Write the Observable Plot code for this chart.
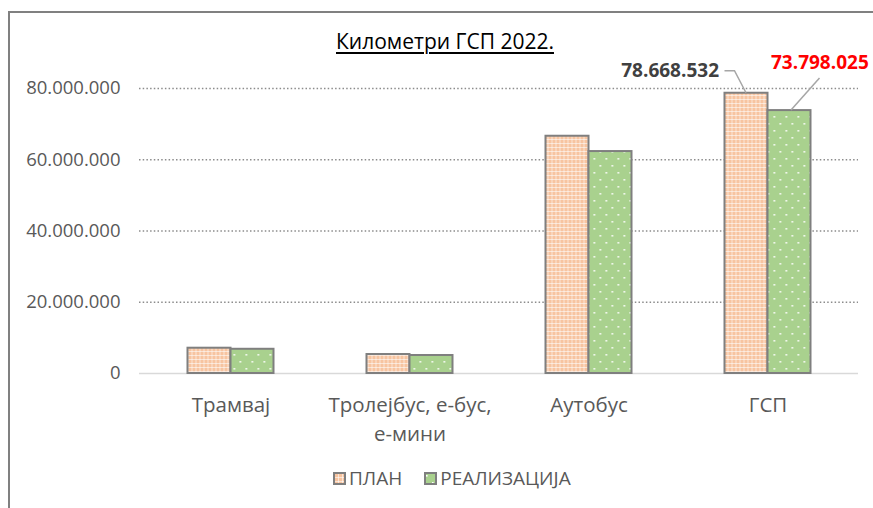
<!DOCTYPE html>
<html>
<head>
<meta charset="utf-8">
<script src="https://cdn.jsdelivr.net/npm/d3@7"></script>
<script src="https://cdn.jsdelivr.net/npm/@observablehq/plot@0.6"></script>
<style>
  html, body { margin: 0; padding: 0; background: #fff; }
  #wrap { position: relative; width: 873px; height: 508px; overflow: hidden; font-family: "Open Sans", sans-serif; }
  #borderTop { position: absolute; left: 8px; top: 11px; width: 870px; height: 2px; background: #808080; }
  #borderLeft { position: absolute; left: 8px; top: 11px; width: 2px; height: 500px; background: #808080; }
  #title { position: absolute; left: 0; width: 890px; top: 27px; text-align: center; font-size: 21px; color: #000; text-decoration: underline; text-underline-offset: 3px; }
  #chart { position: absolute; left: 0; top: 50px; }
  #legend { position: absolute; top: 465px; left: 333px; display: flex; align-items: center; font-size: 19px; color: #595959; }
  #legend .item { display: flex; align-items: center; }
  #legend svg { margin-right: 3px; }
</style>
</head>
<body>
<svg width="0" height="0" style="position:absolute">
  <defs>
    <pattern id="planPat" width="4" height="4" patternUnits="userSpaceOnUse">
      <rect width="4" height="4" fill="#f7c4a0"></rect>
      <rect x="0" y="1" width="4" height="1" fill="#ffffff" fill-opacity="0.55"></rect>
      <rect x="1" y="0" width="1" height="4" fill="#ffffff" fill-opacity="0.55"></rect>
    </pattern>
    <pattern id="realPat" width="12" height="14" patternUnits="userSpaceOnUse">
      <rect width="12" height="14" fill="#a9d18e"></rect>
      <rect x="2" y="3" width="1.6" height="1.6" fill="#ffffff"></rect>
      <rect x="8" y="10" width="1.6" height="1.6" fill="#ffffff"></rect>
    </pattern>
  </defs>
</svg>
<div id="wrap">
  <div id="borderTop"></div>
  <div id="borderLeft"></div>
  <div id="title">Километри ГСП 2022.</div>
  <div id="chart"></div>
  <div id="legend"></div>
</div>
<script>
const categories = ["Трамвај", "Тролејбус, е-бус,\nе-мини", "Аутобус", "ГСП"];
const seriesNames = ["ПЛАН", "РЕАЛИЗАЦИЈА"];
const planValues = [7100000, 5330000, 66600000, 78668532];
const realValues = [6800000, 5050000, 62300000, 73798025];
const yTicks = [0, 20000000, 40000000, 60000000, 80000000];
const labelCategory = "ГСП";

const locale = d3.formatLocale({decimal: ",", thousands: ".", grouping: [3], currency: ["", ""]});
const fmt = locale.format(",d");

const planData = categories.map((c, i) => ({category: c, series: seriesNames[0], value: planValues[i]}));
const realData = categories.map((c, i) => ({category: c, series: seriesNames[1], value: realValues[i]}));
const planLabel = planData.filter(d => d.category === labelCategory);
const realLabel = realData.filter(d => d.category === labelCategory);

const halfBar = 21.5;

function leaderLines(index, scales) {
  const g = d3.create("svg:g");
  const bw = typeof scales.x.bandwidth === "function" ? scales.x.bandwidth() : scales.x.bandwidth;
  const cx = scales.x(labelCategory) + bw / 2;
  const pTop = scales.y(planLabel[0].value);
  const rTop = scales.y(realLabel[0].value);
  const line = d3.line();
  g.append("path")
    .attr("d", line([[cx - halfBar, pTop], [cx - 33, pTop - 22], [cx - 43, pTop - 22]]))
    .attr("fill", "none").attr("stroke", "#a6a6a6").attr("stroke-width", 1.5);
  g.append("path")
    .attr("d", line([[cx + halfBar + 2, rTop], [cx + 52, rTop - 32]]))
    .attr("fill", "none").attr("stroke", "#a6a6a6").attr("stroke-width", 1.5);
  return g.node();
}

const chart = Plot.plot({
  width: 873,
  height: 400,
  marginTop: 38,
  marginBottom: 77,
  marginLeft: 139,
  marginRight: 15,
  style: {fontFamily: "Open Sans, sans-serif", color: "#595959", background: "transparent", overflow: "visible"},
  x: {domain: categories, paddingInner: 0.761, paddingOuter: 0.38, label: null, axis: null},
  y: {domain: [0, 80000000], label: null, axis: null},
  marks: [
    Plot.ruleY(yTicks.filter(t => t > 0), {stroke: "#8c8c8c", strokeWidth: 1.5, strokeDasharray: "1.5,2.2"}),
    Plot.ruleY([0], {stroke: "#d9d9d9", strokeWidth: 1.5}),
    Plot.barY(planData, {x: "category", y: "value", dx: -halfBar, fill: "url(#planPat)", stroke: "#7f7f7f", strokeWidth: 2}),
    Plot.barY(realData, {x: "category", y: "value", dx: halfBar, fill: "url(#realPat)", stroke: "#7f7f7f", strokeWidth: 2}),
    Plot.axisY({ticks: yTicks, tickFormat: fmt, tickSize: 0, tickPadding: 19, fontSize: 18.5, fill: "#595959"}),
    Plot.axisX({tickSize: 0, tickPadding: 19, fontSize: 20.5, lineHeight: 1.37, fill: "#595959"}),
    leaderLines,
    Plot.text(planLabel, {x: "category", y: "value", text: d => fmt(d.value), dx: -49, dy: -22.7, textAnchor: "end", fontSize: 19, fontWeight: "bold", fill: "#404040"}),
    Plot.text(realLabel, {x: "category", y: "value", text: d => fmt(d.value), dx: 3, dy: -48, textAnchor: "start", fontSize: 19, fontWeight: "bold", fill: "#ff0000"})
  ]
});
document.getElementById("chart").appendChild(chart);

const legend = document.getElementById("legend");
const swatchPats = ["planPat", "realPat"];
seriesNames.forEach((name, i) => {
  const item = document.createElement("div");
  item.className = "item";
  if (i > 0) item.style.marginLeft = "22px";
  item.innerHTML = `<svg width="13" height="13"><rect x="1" y="1" width="11" height="11" fill="url(#${swatchPats[i]})" stroke="#7f7f7f" stroke-width="2"></rect></svg><span>${name}</span>`;
  legend.appendChild(item);
});
</script>
</body>
</html>
